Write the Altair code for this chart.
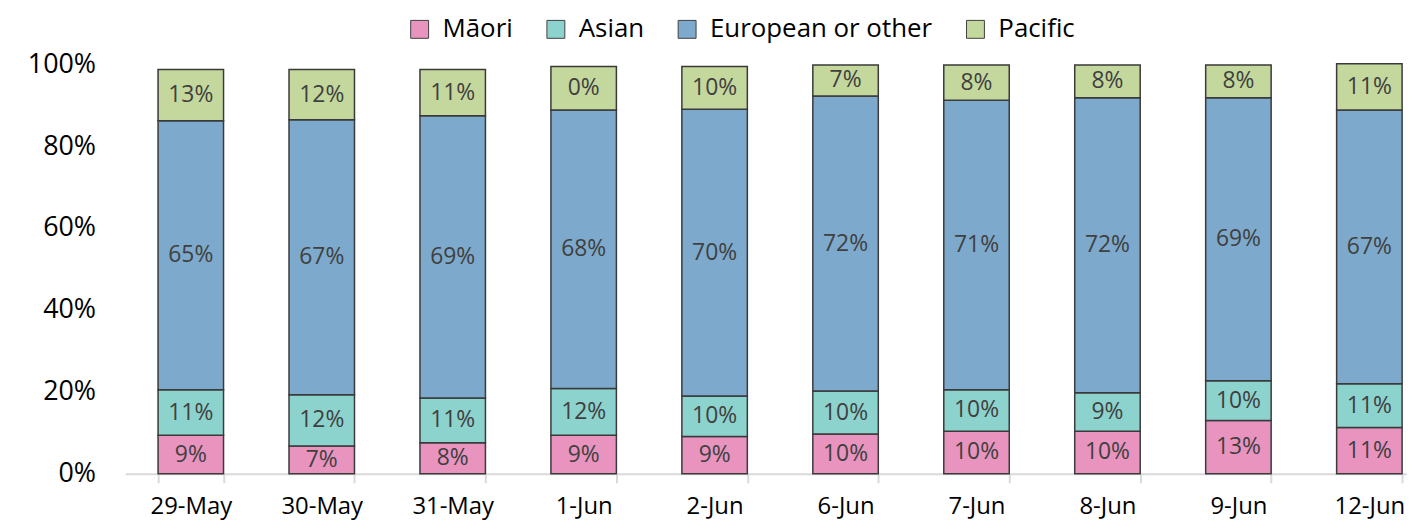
import altair as alt
import pandas as pd

dates = ["29-May", "30-May", "31-May", "1-Jun", "2-Jun", "6-Jun", "7-Jun", "8-Jun", "9-Jun", "12-Jun"]
groups = ["Māori", "Asian", "European or other", "Pacific"]

maori = [9.4, 6.8, 7.6, 9.4, 9.1, 9.7, 10.4, 10.4, 13.0, 11.3]
asian = [11.1, 12.5, 10.9, 11.4, 9.9, 10.5, 10.1, 9.4, 9.7, 10.7]
european = [65.7, 67.1, 68.9, 68.0, 70.0, 72.0, 70.7, 72.0, 69.1, 66.8]
pacific = [12.5, 12.3, 11.3, 10.6, 10.4, 7.6, 8.6, 8.0, 8.0, 11.3]

maori_lbl = ["9%", "7%", "8%", "9%", "9%", "10%", "10%", "10%", "13%", "11%"]
asian_lbl = ["11%", "12%", "11%", "12%", "10%", "10%", "10%", "9%", "10%", "11%"]
european_lbl = ["65%", "67%", "69%", "68%", "70%", "72%", "71%", "72%", "69%", "67%"]
pacific_lbl = ["13%", "12%", "11%", "0%", "10%", "7%", "8%", "8%", "8%", "11%"]

colors = ["#E994BF", "#8CD3CE", "#7DAACC", "#C4D89D"]

series = [maori, asian, european, pacific]
labels = [maori_lbl, asian_lbl, european_lbl, pacific_lbl]

rows = []
for i, d in enumerate(dates):
    base = 0.0
    for k, (g, vals, lbls) in enumerate(zip(groups, series, labels)):
        v = vals[i] / 100.0
        rows.append(dict(date=d, group=g, start=base, end=base + v,
                         mid=base + v / 2, label=lbls[i], order=k))
        base += v
df = pd.DataFrame(rows)

FONT = "Open Sans"

x = alt.X(
    "date:N", sort=dates,
    scale=alt.Scale(range=[0, 1317], paddingInner=0.5, paddingOuter=0.25),
    axis=alt.Axis(title=None, labelAngle=0, tickBand="extent",
                  domainColor="#D9D9D9", domainWidth=2,
                  tickColor="#D9D9D9", tickWidth=2, tickSize=9,
                  labelFont=FONT, labelFontSize=24, labelColor="#000000",
                  labelPadding=12),
)

y_axis = alt.Axis(title=None, format=".0%", values=[0, 0.2, 0.4, 0.6, 0.8, 1.0],
                  domain=False, ticks=False, tickSize=0, grid=False,
                  labelFont=FONT, labelFontSize=27, labelColor="#000000",
                  labelPadding=30)

bars = alt.Chart(df).mark_bar(stroke="#3a3a3a", strokeWidth=1.5).encode(
    x=x,
    y=alt.Y("start:Q", scale=alt.Scale(domain=[0, 1]), axis=y_axis),
    y2="end:Q",
    color=alt.Color(
        "group:N",
        scale=alt.Scale(domain=groups, range=colors),
        legend=alt.Legend(title=None, orient="none", legendX=283, legendY=-48,
                          direction="horizontal", symbolType="square",
                          symbolSize=324, symbolStrokeColor="#404040",
                          symbolStrokeWidth=1, labelFont=FONT, labelFontSize=26,
                          labelColor="#000000", labelOffset=10, columnPadding=30,
                          labelLimit=0),
    ),
    order=alt.Order("order:Q"),
)

text = alt.Chart(df).mark_text(font=FONT, fontSize=23, color="#404040",
                               baseline="middle").encode(
    x=alt.X("date:N", sort=dates),
    y=alt.Y("mid:Q"),
    text="label:N",
)

chart = alt.layer(bars, text).properties(
    width=1289, height=412,
    padding={"left": 118, "top": 55, "right": 0, "bottom": 48},
    autosize=alt.AutoSizeParams(type="none"),
    background="white",
).configure_view(stroke=None)

chart.save("out.html", embed_options={"renderer": "svg", "actions": False})
